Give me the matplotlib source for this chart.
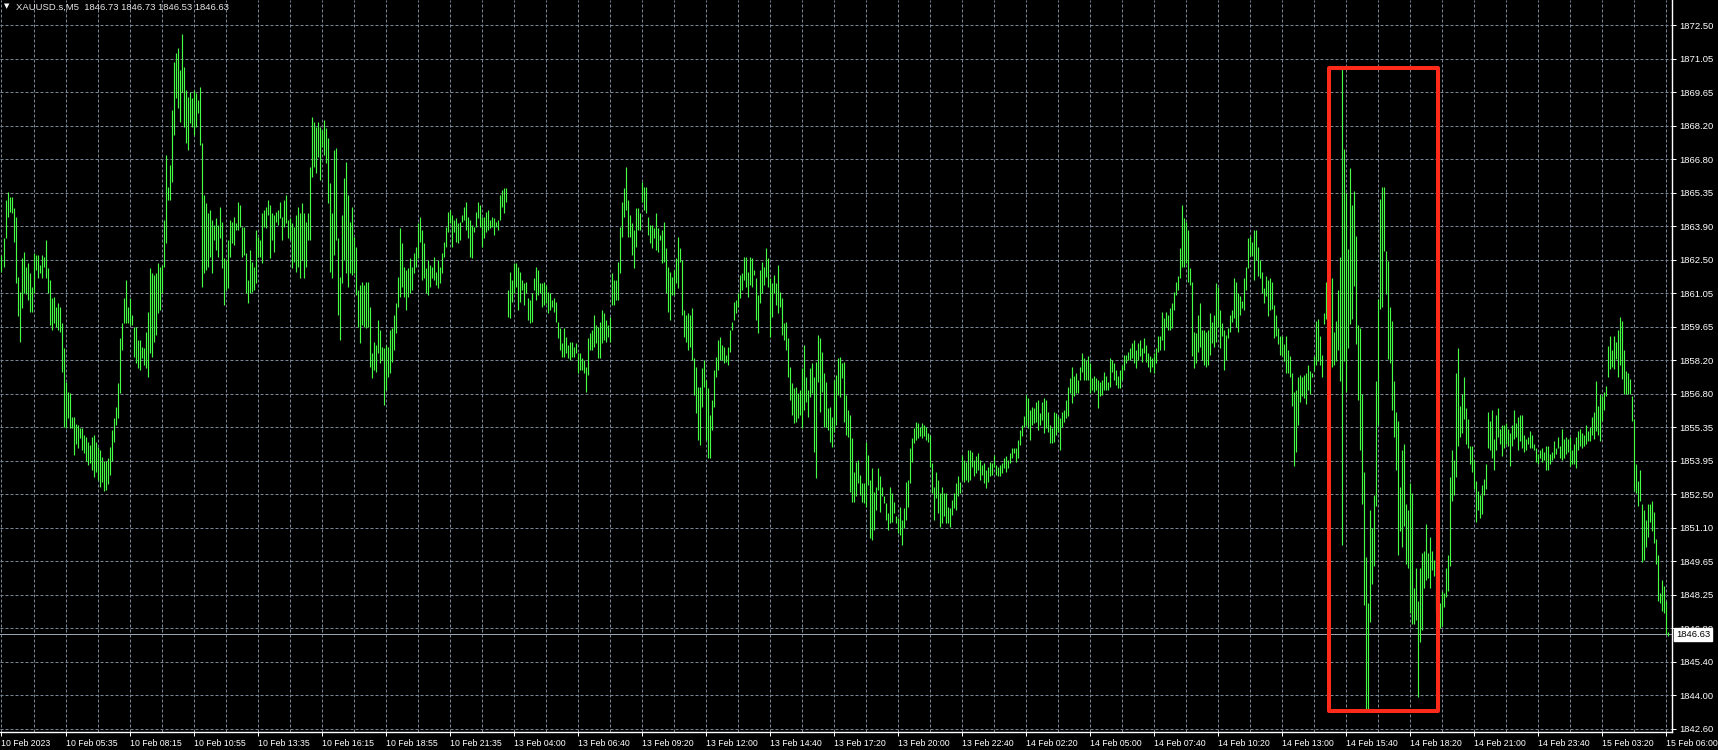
import numpy as np
import matplotlib
matplotlib.use("Agg")
import matplotlib.pyplot as plt
import matplotlib.transforms as mtransforms
from matplotlib.patches import Rectangle

# ---------------- data ----------------
symbol = "XAUUSD.s,M5"
last_ohlc = [1846.73, 1846.73, 1846.53, 1846.63]

price_labels = ["1872.50", "1871.05", "1869.65", "1868.20", "1866.80", "1865.35",
                "1863.90", "1862.50", "1861.05", "1859.65", "1858.20", "1856.80",
                "1855.35", "1853.95", "1852.50", "1851.10", "1849.65", "1848.25",
                "1846.80", "1845.40", "1844.00", "1842.60"]

time_labels = ["10 Feb 2023", "10 Feb 05:35", "10 Feb 08:15", "10 Feb 10:55",
               "10 Feb 13:35", "10 Feb 16:15", "10 Feb 18:55", "10 Feb 21:35",
               "13 Feb 04:00", "13 Feb 06:40", "13 Feb 09:20", "13 Feb 12:00",
               "13 Feb 14:40", "13 Feb 17:20", "13 Feb 20:00", "13 Feb 22:40",
               "14 Feb 02:20", "14 Feb 05:00", "14 Feb 07:40", "14 Feb 10:20",
               "14 Feb 13:00", "14 Feb 15:40", "14 Feb 18:20", "14 Feb 21:00",
               "14 Feb 23:40", "15 Feb 03:20", "15 Feb 06:00"]
bars_per_label = 32
bars_per_grid = 16

highs = [
    1862.74, 1863.45, 1865.08, 1865.40, 1865.22, 1865.22, 1864.72, 1864.37, 1861.82, 1861.18,
    1862.60, 1862.88, 1862.24, 1862.39, 1861.96, 1861.40, 1862.81, 1862.74, 1862.74, 1862.31,
    1862.74, 1862.67, 1863.38, 1862.17, 1861.68, 1860.90, 1860.97, 1860.54, 1860.69, 1860.54,
    1859.84, 1858.77, 1857.36, 1856.93, 1856.86, 1855.87, 1855.87, 1855.58, 1855.51, 1855.37,
    1855.37, 1855.09, 1855.02, 1854.80, 1854.66, 1855.02, 1855.09, 1854.80, 1854.59, 1854.45,
    1854.16, 1854.00, 1854.00, 1854.10, 1854.60, 1855.30, 1855.80, 1856.29, 1857.29, 1859.20,
    1859.84, 1860.90, 1861.68, 1860.54, 1860.90, 1860.19, 1859.69, 1859.69, 1859.13, 1859.13,
    1858.84, 1858.77, 1859.48, 1860.33, 1862.17, 1861.96, 1861.89, 1861.96, 1862.39, 1862.24,
    1862.31, 1864.23, 1866.99, 1865.65, 1866.57, 1868.90, 1870.96, 1871.31, 1871.53, 1870.60,
    1872.13, 1870.75, 1869.75, 1869.47, 1869.68, 1869.40, 1869.75, 1869.61, 1869.33, 1869.90,
    1867.49, 1865.29, 1864.94, 1864.51, 1864.65, 1864.23, 1864.02, 1864.30, 1864.02, 1864.80,
    1864.16, 1862.60, 1862.53, 1863.38, 1864.23, 1864.16, 1864.37, 1864.09, 1865.01, 1864.87,
    1863.94, 1863.94, 1862.81, 1861.68, 1862.95, 1862.46, 1862.24, 1863.80, 1863.52, 1863.38,
    1864.51, 1864.65, 1864.80, 1865.08, 1864.87, 1864.51, 1864.44, 1864.58, 1864.65, 1865.01,
    1864.37, 1865.08, 1865.29, 1864.23, 1864.30, 1864.09, 1863.94, 1864.44, 1864.80, 1864.51,
    1864.94, 1864.51, 1864.16, 1864.51, 1866.50, 1868.62, 1868.41, 1868.20, 1868.41, 1868.20,
    1868.05, 1868.48, 1868.12, 1867.70, 1865.79, 1864.51, 1867.20, 1867.28, 1863.45, 1861.82,
    1864.44, 1866.00, 1866.71, 1865.29, 1864.16, 1864.80, 1863.52, 1863.09, 1861.25, 1861.47,
    1861.61, 1861.47, 1861.61, 1861.61, 1860.54, 1858.56, 1859.06, 1858.91, 1859.98, 1859.55,
    1858.84, 1858.77, 1858.91, 1858.84, 1859.55, 1859.62, 1860.19, 1860.69, 1861.82, 1863.87,
    1863.24, 1862.24, 1862.10, 1862.17, 1862.60, 1862.24, 1862.81, 1863.09, 1864.09, 1864.37,
    1863.80, 1863.24, 1862.17, 1862.53, 1862.32, 1862.25, 1862.67, 1862.03, 1862.53, 1862.25,
    1862.81, 1863.31, 1863.95, 1864.58, 1864.65, 1864.44, 1864.23, 1864.30, 1864.09, 1864.16,
    1864.44, 1864.80, 1865.01, 1864.37, 1864.23, 1864.02, 1863.95, 1864.58, 1865.01, 1864.87,
    1864.37, 1864.37, 1864.58, 1864.65, 1864.23, 1864.37, 1864.30, 1864.16, 1864.23, 1865.29,
    1865.50, 1865.58, 1865.58, 1861.26, 1862.03, 1861.68, 1862.39, 1862.39, 1862.25, 1862.03,
    1861.68, 1861.54, 1861.61, 1860.90, 1860.83, 1861.11, 1861.75, 1862.25, 1862.10, 1861.54,
    1861.54, 1861.61, 1861.47, 1861.18, 1861.11, 1860.83, 1860.90, 1860.76, 1859.91, 1859.63,
    1858.99, 1859.63, 1859.27, 1858.92, 1859.06, 1859.06, 1858.85, 1858.99, 1858.56, 1858.56,
    1858.35, 1858.28, 1858.00, 1859.20, 1859.41, 1859.56, 1860.19, 1859.77, 1859.70, 1859.91,
    1860.40, 1860.26, 1859.98, 1859.77, 1860.12, 1861.96, 1861.68, 1861.68, 1862.46, 1863.95,
    1865.01, 1865.58, 1866.50, 1865.08, 1864.44, 1864.09, 1863.80, 1864.73, 1864.73, 1864.51,
    1865.86, 1865.65, 1865.65, 1864.37, 1864.02, 1864.02, 1863.88, 1864.51, 1863.88, 1863.59,
    1863.80, 1864.16, 1863.03, 1862.25, 1862.03, 1861.82, 1862.10, 1862.60, 1863.52, 1863.03,
    1862.53, 1860.40, 1860.19, 1860.26, 1860.19, 1860.48, 1858.35, 1858.00, 1857.15, 1857.15,
    1857.93, 1858.28, 1857.43, 1857.08, 1855.94, 1856.58, 1857.85, 1858.42, 1859.13, 1859.27,
    1858.92, 1858.85, 1858.49, 1858.85, 1859.56, 1859.91, 1860.76, 1860.83, 1861.11, 1861.89,
    1861.96, 1862.67, 1862.67, 1862.03, 1862.67, 1862.60, 1862.10, 1861.75, 1861.04, 1862.10,
    1862.46, 1862.25, 1863.03, 1862.60, 1861.75, 1861.54, 1861.89, 1861.54, 1862.32, 1861.18,
    1860.90, 1859.84, 1859.91, 1859.20, 1858.00, 1857.29, 1857.08, 1857.15, 1856.86, 1857.01,
    1857.93, 1858.92, 1857.57, 1857.01, 1857.93, 1858.14, 1857.57, 1858.21, 1859.34, 1859.20,
    1858.63, 1857.71, 1857.36, 1856.23, 1856.30, 1855.87, 1857.43, 1857.64, 1858.35, 1858.42,
    1858.14, 1858.21, 1856.79, 1856.15, 1855.94, 1854.96, 1853.54, 1853.96, 1854.03, 1853.40,
    1853.04, 1853.04, 1854.81, 1854.25, 1853.18, 1853.68, 1852.69, 1852.90, 1853.68, 1853.33,
    1852.90, 1852.48, 1852.19, 1851.77, 1852.90, 1852.62, 1852.26, 1851.63, 1851.56, 1852.05,
    1851.49, 1851.98, 1853.11, 1853.18, 1854.53, 1854.96, 1855.38, 1855.66, 1855.59, 1855.45,
    1855.59, 1855.52, 1855.45, 1855.17, 1855.10, 1853.89, 1852.90, 1853.54, 1853.18, 1852.62,
    1852.90, 1852.62, 1852.62, 1852.05, 1851.98, 1852.33, 1852.62, 1853.04, 1853.33, 1853.11,
    1854.25, 1854.03, 1853.96, 1854.46, 1854.46, 1854.39, 1854.03, 1854.18, 1854.32, 1854.03,
    1853.82, 1853.89, 1853.61, 1853.75, 1853.96, 1853.89, 1854.25, 1853.82, 1853.75, 1853.82,
    1853.89, 1854.11, 1854.18, 1854.03, 1854.32, 1854.53, 1854.53, 1854.53, 1854.88, 1855.31,
    1855.52, 1855.88, 1856.80, 1856.66, 1856.16, 1856.30, 1856.23, 1856.51, 1856.58, 1856.02,
    1856.51, 1856.66, 1856.58, 1856.09, 1855.52, 1855.38, 1856.09, 1856.02, 1855.88, 1855.81,
    1856.09, 1856.16, 1856.58, 1857.15, 1857.51, 1858.00, 1857.58, 1857.72, 1857.44, 1858.00,
    1858.57, 1858.36, 1858.29, 1858.43, 1858.14, 1857.51, 1857.58, 1857.51, 1857.44, 1857.36,
    1857.44, 1857.79, 1857.58, 1857.36, 1858.36, 1858.29, 1858.14, 1857.86, 1857.58, 1857.86,
    1858.07, 1858.50, 1858.50, 1858.64, 1858.78, 1858.99, 1859.14, 1858.71, 1858.99, 1859.14,
    1858.78, 1859.21, 1858.92, 1858.57, 1858.43, 1858.36, 1858.57, 1858.78, 1859.28, 1859.28,
    1860.34, 1860.06, 1860.34, 1860.20, 1860.48, 1860.69, 1861.19, 1861.61, 1861.83, 1863.03,
    1864.87, 1864.31, 1864.16, 1863.81, 1862.18, 1861.61, 1859.49, 1859.42, 1860.20, 1860.69,
    1859.56, 1859.56, 1859.49, 1859.56, 1860.27, 1859.91, 1860.20, 1861.54, 1861.40, 1860.41,
    1859.84, 1859.56, 1859.35, 1859.63, 1860.20, 1860.41, 1861.76, 1861.61, 1861.12, 1860.98,
    1860.77, 1861.76, 1862.25, 1863.46, 1863.53, 1863.31, 1863.81, 1863.81, 1863.10, 1862.54,
    1862.04, 1861.33, 1861.83, 1861.69, 1861.76, 1861.59, 1860.63, 1860.19, 1859.66, 1859.31,
    1859.31, 1858.95, 1859.31, 1858.69, 1858.43, 1857.72, 1856.93, 1857.02, 1857.55, 1857.63,
    1857.55, 1857.63, 1857.72, 1858.07, 1857.81, 1857.72, 1858.43, 1859.92, 1860.01, 1859.31,
    1858.51, 1860.27, 1861.59, 1861.07, 1861.77, 1861.77, 1859.48, 1859.92, 1861.24, 1862.65,
    1870.66, 1867.23, 1865.38, 1863.00, 1866.43, 1864.85, 1865.47, 1863.53, 1859.75, 1859.66,
    1856.84, 1853.50, 1849.89, 1847.95, 1851.91, 1851.12, 1852.53, 1857.37, 1860.89, 1865.11,
    1865.64, 1865.64, 1862.91, 1862.47, 1860.54, 1859.92, 1857.37, 1856.05, 1855.70, 1852.88,
    1854.47, 1854.73, 1852.18, 1851.91, 1853.06, 1852.62, 1848.57, 1849.45, 1848.04, 1849.45,
    1850.07, 1850.15, 1851.30, 1850.07, 1850.77, 1850.15, 1849.80, 1849.98, 1848.39, 1847.95,
    1848.48, 1848.39, 1849.45, 1849.98, 1853.32, 1854.47, 1854.03, 1857.72, 1858.78, 1856.31,
    1856.84, 1857.55, 1856.23, 1855.79, 1854.64, 1854.64, 1854.03, 1853.15, 1852.71, 1852.53,
    1852.97, 1853.23, 1853.85, 1856.05, 1855.70, 1856.14, 1854.91, 1855.96, 1856.23, 1855.35,
    1855.52, 1855.52, 1855.61, 1855.35, 1855.17, 1855.52, 1856.14, 1855.61, 1855.87, 1855.96,
    1855.96, 1855.08, 1854.91, 1855.00, 1855.26, 1855.08, 1854.73, 1854.55, 1854.29, 1854.47,
    1854.55, 1854.38, 1854.64, 1854.64, 1854.29, 1854.38, 1854.82, 1854.55, 1855.00, 1854.64,
    1855.35, 1854.91, 1855.00, 1854.91, 1855.00, 1854.47, 1854.73, 1855.00, 1855.26, 1855.35,
    1855.17, 1855.08, 1855.52, 1855.26, 1855.43, 1855.87, 1856.05, 1857.37, 1856.31, 1856.84,
    1856.75, 1856.93, 1857.19, 1858.87, 1859.31, 1858.69, 1859.31, 1859.04, 1859.57, 1860.10,
    1859.92, 1858.69, 1857.81, 1857.72, 1857.46, 1856.75, 1855.79, 1853.85, 1853.15, 1853.59,
    1852.18, 1851.91, 1851.47, 1852.18, 1852.18, 1852.27, 1851.83, 1850.68, 1849.98, 1848.39,
    1848.92, 1848.66, 1848.04, 1846.73,
]

lows = [
    1862.03, 1862.24, 1863.45, 1864.37, 1864.58, 1864.51, 1863.31, 1861.54, 1860.15, 1859.06,
    1860.47, 1861.11, 1861.08, 1860.83, 1860.33, 1860.33, 1861.11, 1862.10, 1861.75, 1861.96,
    1861.75, 1862.24, 1861.75, 1861.11, 1859.77, 1859.55, 1859.84, 1859.69, 1859.55, 1859.48,
    1857.78, 1855.44, 1855.37, 1855.80, 1855.37, 1855.37, 1854.24, 1854.73, 1854.52, 1854.95,
    1854.45, 1854.31, 1854.00, 1853.80, 1853.90, 1853.60, 1853.30, 1853.50, 1853.20, 1852.90,
    1853.10, 1852.70, 1852.75, 1853.00, 1853.40, 1854.00, 1854.80, 1855.51, 1855.80, 1856.86,
    1858.70, 1859.84, 1859.84, 1859.84, 1859.77, 1859.77, 1858.42, 1858.14, 1857.92, 1857.85,
    1858.35, 1858.06, 1857.92, 1857.57, 1858.56, 1858.42, 1859.06, 1859.34, 1860.26, 1860.40,
    1861.11, 1862.24, 1863.24, 1865.08, 1865.08, 1865.86, 1867.84, 1869.40, 1868.98, 1868.41,
    1869.68, 1868.20, 1867.49, 1867.20, 1868.34, 1868.20, 1867.84, 1868.20, 1868.76, 1867.42,
    1861.40, 1861.96, 1862.10, 1862.24, 1862.67, 1861.96, 1863.38, 1862.95, 1862.67, 1863.45,
    1862.17, 1860.62, 1861.25, 1861.32, 1862.67, 1863.24, 1863.17, 1863.80, 1863.80, 1863.94,
    1862.67, 1862.74, 1861.11, 1860.69, 1861.11, 1861.18, 1861.25, 1861.54, 1862.67, 1862.67,
    1862.39, 1863.94, 1863.87, 1864.44, 1862.60, 1863.38, 1862.88, 1864.16, 1864.02, 1864.30,
    1863.38, 1863.94, 1864.09, 1863.45, 1863.38, 1862.17, 1862.46, 1862.03, 1862.24, 1861.75,
    1862.53, 1861.75, 1862.24, 1863.38, 1863.38, 1866.07, 1866.50, 1866.21, 1866.92, 1865.93,
    1867.35, 1866.99, 1866.64, 1864.94, 1862.03, 1861.75, 1862.74, 1863.38, 1860.19, 1859.13,
    1861.54, 1862.53, 1861.96, 1861.40, 1861.96, 1861.89, 1861.96, 1861.04, 1859.69, 1858.99,
    1859.77, 1859.69, 1859.62, 1859.69, 1857.99, 1857.50, 1857.85, 1857.78, 1858.56, 1858.14,
    1858.28, 1856.36, 1857.00, 1857.57, 1857.71, 1858.21, 1858.70, 1859.41, 1860.54, 1860.97,
    1861.40, 1860.97, 1860.40, 1860.97, 1861.11, 1861.25, 1861.96, 1862.24, 1862.60, 1863.31,
    1861.68, 1861.75, 1861.11, 1861.04, 1861.40, 1861.75, 1861.68, 1861.47, 1861.33, 1861.54,
    1861.96, 1862.67, 1863.10, 1863.73, 1864.09, 1863.10, 1863.73, 1863.31, 1863.24, 1863.38,
    1864.16, 1864.23, 1863.80, 1863.45, 1862.67, 1862.60, 1863.73, 1863.95, 1864.30, 1863.95,
    1863.10, 1863.45, 1863.73, 1863.80, 1863.88, 1863.95, 1863.59, 1863.95, 1863.80, 1864.23,
    1864.80, 1864.51, 1865.01, 1860.12, 1860.05, 1860.76, 1861.11, 1861.40, 1860.40, 1860.76,
    1861.26, 1860.62, 1861.11, 1859.98, 1859.84, 1859.91, 1861.26, 1860.83, 1861.04, 1861.11,
    1860.55, 1860.62, 1860.69, 1860.26, 1860.40, 1860.55, 1860.33, 1859.91, 1859.20, 1858.70,
    1858.42, 1858.42, 1858.56, 1858.35, 1858.28, 1858.42, 1858.42, 1858.56, 1857.71, 1857.85,
    1857.85, 1857.71, 1856.93, 1857.64, 1858.70, 1858.70, 1858.85, 1858.99, 1858.35, 1858.35,
    1858.99, 1859.13, 1859.06, 1859.27, 1859.06, 1860.62, 1860.62, 1860.83, 1860.83, 1861.96,
    1863.52, 1864.37, 1864.65, 1863.52, 1863.52, 1862.74, 1862.18, 1863.10, 1863.80, 1863.80,
    1865.01, 1864.65, 1864.51, 1863.59, 1863.24, 1863.03, 1863.45, 1862.96, 1862.88, 1863.38,
    1862.39, 1862.46, 1861.11, 1860.33, 1859.98, 1861.04, 1861.04, 1861.54, 1861.33, 1862.46,
    1860.19, 1859.27, 1859.06, 1858.70, 1858.85, 1858.28, 1856.79, 1856.01, 1854.88, 1854.67,
    1856.30, 1857.15, 1854.88, 1854.10, 1854.10, 1855.30, 1856.30, 1857.57, 1857.85, 1858.28,
    1858.28, 1858.14, 1858.21, 1858.07, 1858.63, 1859.56, 1859.98, 1860.26, 1860.55, 1860.90,
    1861.26, 1861.68, 1861.40, 1860.97, 1861.47, 1861.40, 1861.89, 1859.98, 1859.41, 1860.69,
    1861.11, 1861.47, 1861.82, 1861.40, 1859.27, 1860.12, 1861.11, 1860.62, 1860.26, 1860.55,
    1859.34, 1859.13, 1858.70, 1857.57, 1856.58, 1855.94, 1855.59, 1855.66, 1855.80, 1855.94,
    1855.38, 1856.15, 1856.51, 1855.87, 1856.72, 1856.86, 1854.38, 1853.25, 1857.36, 1856.08,
    1856.93, 1855.45, 1855.45, 1855.30, 1854.81, 1854.60, 1855.23, 1855.52, 1856.79, 1856.72,
    1857.50, 1855.66, 1855.09, 1855.02, 1852.68, 1852.26, 1852.26, 1852.48, 1853.04, 1852.55,
    1852.26, 1852.19, 1852.05, 1852.97, 1850.71, 1850.63, 1851.06, 1851.91, 1852.76, 1851.84,
    1852.48, 1852.19, 1851.49, 1851.06, 1851.34, 1851.41, 1851.77, 1851.34, 1850.92, 1850.85,
    1850.42, 1851.13, 1851.49, 1852.05, 1853.04, 1853.96, 1854.74, 1854.88, 1854.96, 1855.03,
    1854.96, 1855.03, 1854.88, 1854.81, 1853.75, 1852.62, 1851.49, 1852.40, 1851.77, 1851.20,
    1851.34, 1851.63, 1851.34, 1851.34, 1851.20, 1851.70, 1851.98, 1851.91, 1852.48, 1852.62,
    1853.18, 1853.11, 1853.18, 1853.11, 1853.18, 1853.75, 1853.33, 1853.47, 1853.61, 1853.18,
    1853.40, 1853.04, 1852.83, 1853.11, 1853.33, 1853.40, 1853.75, 1853.40, 1853.33, 1853.33,
    1853.47, 1853.68, 1853.54, 1853.68, 1853.89, 1854.11, 1854.32, 1853.96, 1854.11, 1854.67,
    1855.03, 1855.45, 1855.52, 1855.38, 1854.88, 1855.52, 1855.59, 1855.66, 1855.31, 1855.52,
    1855.73, 1855.17, 1855.38, 1855.24, 1854.74, 1854.74, 1854.81, 1855.10, 1855.24, 1854.46,
    1855.45, 1855.66, 1855.81, 1855.88, 1856.87, 1856.44, 1856.73, 1856.87, 1856.87, 1857.44,
    1857.79, 1857.44, 1857.44, 1857.44, 1856.87, 1857.01, 1856.94, 1857.01, 1856.23, 1856.73,
    1856.80, 1857.01, 1857.01, 1857.01, 1857.15, 1857.79, 1857.44, 1857.22, 1857.08, 1857.08,
    1857.44, 1857.86, 1858.14, 1858.29, 1858.29, 1858.36, 1858.14, 1857.93, 1858.29, 1858.43,
    1858.21, 1858.57, 1858.21, 1858.00, 1857.79, 1858.00, 1857.72, 1858.14, 1858.64, 1858.71,
    1859.14, 1858.71, 1859.70, 1859.56, 1859.56, 1859.63, 1860.41, 1861.05, 1861.26, 1861.76,
    1862.25, 1862.25, 1862.39, 1861.61, 1861.47, 1858.43, 1857.93, 1858.14, 1858.64, 1858.85,
    1858.29, 1858.07, 1858.00, 1858.07, 1858.50, 1858.99, 1858.85, 1859.06, 1859.70, 1858.78,
    1859.28, 1857.86, 1858.29, 1859.21, 1859.49, 1859.91, 1860.06, 1859.70, 1859.49, 1860.20,
    1860.48, 1860.41, 1861.26, 1862.18, 1862.68, 1862.68, 1861.68, 1862.54, 1861.83, 1861.76,
    1861.12, 1860.69, 1860.98, 1860.13, 1860.41, 1860.45, 1859.22, 1859.31, 1858.95, 1858.51,
    1858.43, 1858.25, 1857.72, 1857.72, 1857.55, 1856.31, 1853.76, 1854.38, 1855.52, 1856.49,
    1856.75, 1856.67, 1856.40, 1857.02, 1856.84, 1857.55, 1857.81, 1858.07, 1858.25, 1858.07,
    1857.55, 1859.83, 1860.01, 1860.01, 1857.90, 1857.99, 1858.07, 1858.25, 1858.69, 1857.37,
    1850.42, 1858.25, 1856.93, 1858.78, 1859.83, 1860.01, 1861.42, 1858.95, 1856.58, 1854.47,
    1852.18, 1847.87, 1843.40, 1843.40, 1847.16, 1848.75, 1849.54, 1852.09, 1855.52, 1860.45,
    1860.54, 1862.91, 1861.07, 1858.34, 1858.16, 1856.14, 1855.00, 1853.59, 1849.98, 1851.03,
    1850.33, 1851.21, 1849.63, 1849.45, 1847.51, 1847.07, 1847.07, 1847.25, 1843.95, 1846.28,
    1846.81, 1848.57, 1848.92, 1849.01, 1848.57, 1849.36, 1849.10, 1847.60, 1846.99, 1846.90,
    1846.99, 1847.78, 1848.22, 1848.48, 1849.54, 1852.27, 1852.53, 1853.32, 1854.64, 1855.00,
    1855.17, 1855.79, 1854.73, 1854.55, 1853.85, 1853.50, 1852.79, 1851.39, 1851.91, 1851.56,
    1851.74, 1852.53, 1852.79, 1854.55, 1854.47, 1854.11, 1853.59, 1854.47, 1855.00, 1854.73,
    1854.20, 1854.55, 1854.73, 1854.64, 1853.76, 1854.64, 1854.91, 1855.00, 1854.47, 1854.82,
    1854.55, 1854.38, 1854.47, 1854.73, 1854.55, 1854.55, 1854.47, 1853.94, 1853.85, 1854.11,
    1853.94, 1854.03, 1853.59, 1853.59, 1853.85, 1854.03, 1854.11, 1854.29, 1854.55, 1854.11,
    1854.03, 1854.11, 1854.29, 1854.38, 1853.76, 1853.85, 1853.85, 1853.67, 1854.47, 1854.64,
    1854.55, 1854.64, 1854.73, 1854.82, 1854.82, 1855.08, 1854.91, 1855.26, 1855.08, 1854.82,
    1855.70, 1856.14, 1856.75, 1857.55, 1857.90, 1857.99, 1857.90, 1858.34, 1857.55, 1858.07,
    1857.46, 1856.84, 1856.84, 1856.84, 1856.84, 1855.70, 1852.71, 1852.62, 1852.09, 1852.27,
    1849.71, 1849.80, 1850.33, 1850.77, 1851.39, 1851.03, 1850.51, 1849.63, 1848.04, 1847.95,
    1847.60, 1847.51, 1846.63, 1846.53,
]

# highlighted region (bar index range and price range of the red box)
highlight_bars = (663.9, 718.4)
highlight_prices = (1843.35, 1870.68)

# ---------------- style ----------------
BG = "black"
BAR = "#44ff44"
GRID = "#7a8797"
FG = "white"
PX = 0.72  # one pixel in points at 100 dpi

plt.rcParams["font.family"] = ["Liberation Sans", "DejaVu Sans"]

W, H = 1718, 750
fig = plt.figure(figsize=(W / 100, H / 100), dpi=100, facecolor=BG)
plot_w, plot_h, bottom_px = 1672, 732, 18
ax = fig.add_axes([0, bottom_px / H, plot_w / W, plot_h / H], facecolor=BG)

n = len(highs)
idx = np.arange(n)
ax.vlines(idx, lows, highs, colors=BAR, linewidth=1.15 * PX, antialiased=True, zorder=3)

ax.set_xlim(-0.75, 835.25)
ax.set_ylim(1842.47, 1873.58)

# y ticks on the right
yvals = np.linspace(float(price_labels[0]), float(price_labels[-1]), len(price_labels))
ax.yaxis.tick_right()
ax.set_yticks(yvals)
ax.set_yticklabels(price_labels)
ax.tick_params(axis="y", which="major", colors=FG, length=3, width=PX, pad=2.5,
               labelsize=6.8, labelcolor=FG)

# x ticks
xt = np.arange(len(time_labels)) * bars_per_label
ax.set_xticks(xt)
ax.set_xticklabels(time_labels)
for lab in ax.get_xticklabels():
    lab.set_horizontalalignment("left")
ax.set_xticks(np.arange(0, n + 2, bars_per_grid), minor=True)
ax.tick_params(axis="x", which="major", colors=FG, length=3, width=PX, pad=2,
               labelsize=6.3, labelcolor=FG)
ax.tick_params(axis="x", which="minor", length=0)

ax.xaxis.grid(True, which="both", color=GRID, linestyle=(0, (3, 2)), linewidth=PX)
ax.yaxis.grid(True, which="major", color=GRID, linestyle=(0, (3, 2)), linewidth=PX)
ax.set_axisbelow(True)

for side in ("left", "top"):
    ax.spines[side].set_visible(False)
for side in ("right", "bottom"):
    ax.spines[side].set_color(FG)
    ax.spines[side].set_linewidth(1.0)

# current price line + label box
last_close = last_ohlc[3]
ax.axhline(last_close, color="#9aa4ae", linewidth=PX, zorder=2)
trans = mtransforms.blended_transform_factory(ax.transAxes, ax.transData)
ax.text(1.0 + 4 / plot_w, last_close, f"{last_close:.2f}", transform=trans,
        ha="left", va="center", color="black", fontsize=6.8, clip_on=False, zorder=10,
        bbox=dict(boxstyle="square,pad=0.2", fc="white", ec="white"))

# red highlight box
rect = Rectangle((highlight_bars[0], highlight_prices[0]),
                 highlight_bars[1] - highlight_bars[0],
                 highlight_prices[1] - highlight_prices[0],
                 fill=False, edgecolor="#ff2a1a", linewidth=2.9, joinstyle="round",
                 zorder=5)
ax.add_patch(rect)

# header
fig.text(4 / W, 1 - 6 / H, "\u25BC", color=FG, fontsize=5, family="DejaVu Sans",
         ha="left", va="center")
header = f"{symbol}  " + " ".join(f"{v:.2f}" for v in last_ohlc)
fig.text(16 / W, 1 - 7 / H, header, color="#e6e6e6", fontsize=6.8,
         ha="left", va="center")

fig.savefig("out.png", dpi=100, facecolor=BG)
